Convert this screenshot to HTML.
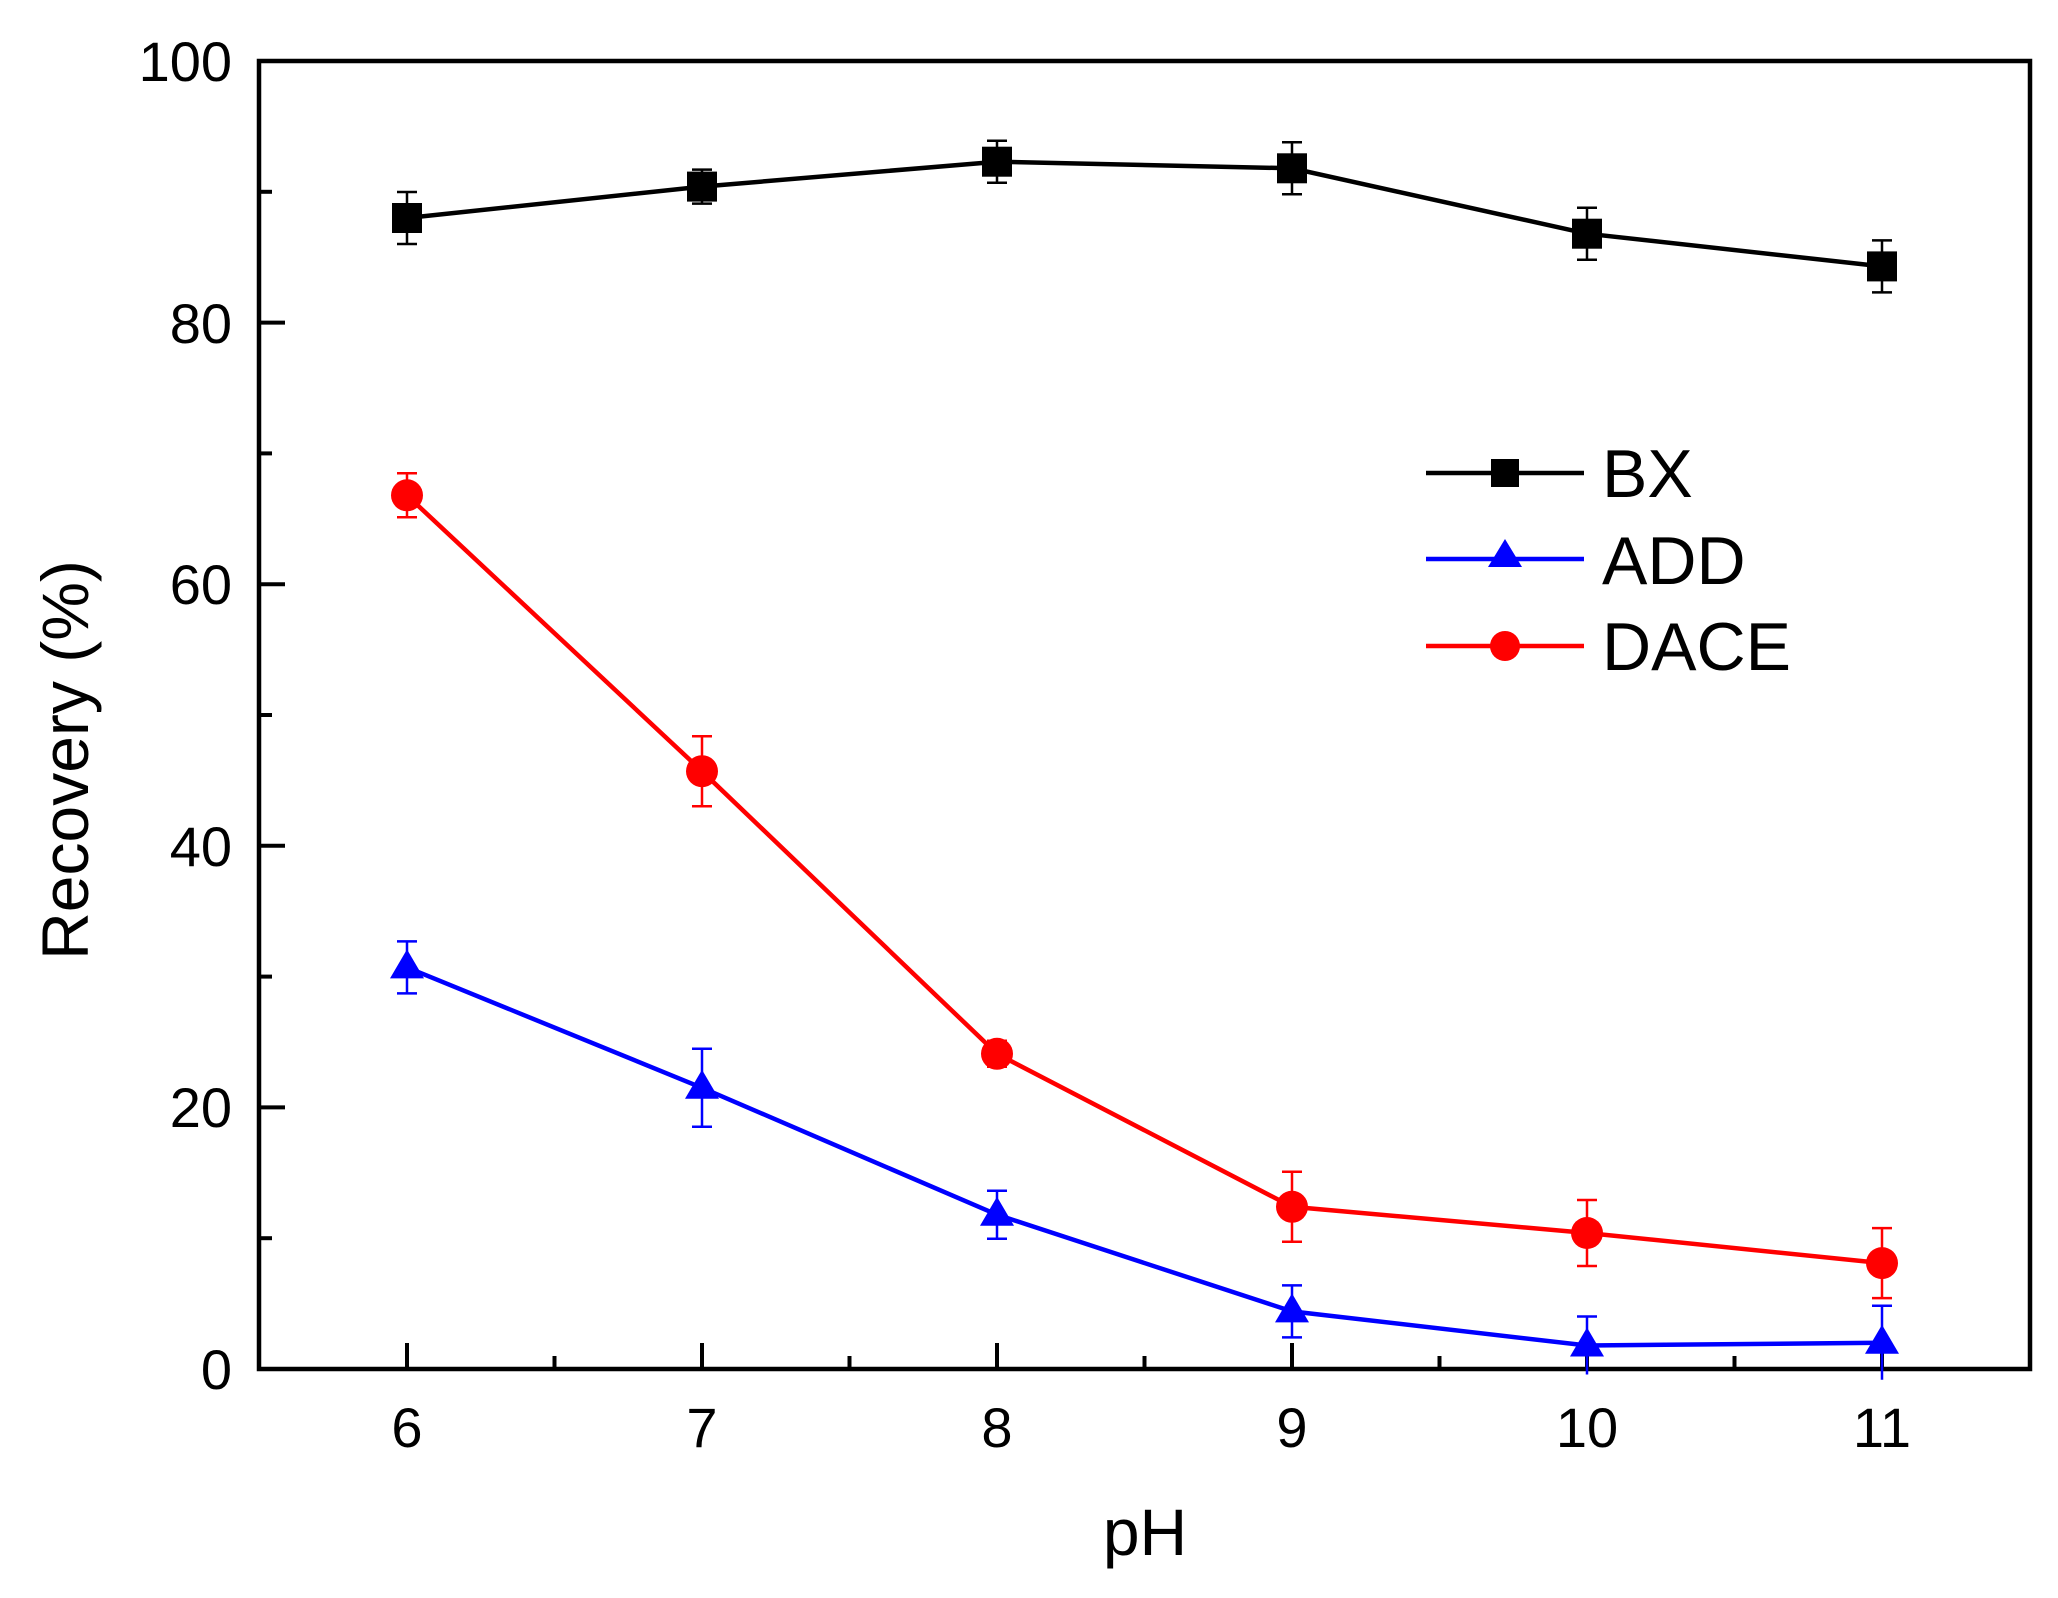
<!DOCTYPE html>
<html><head><meta charset="utf-8"><style>html,body{margin:0;padding:0;background:#fff}svg{display:block}</style></head>
<body>
<svg width="2058" height="1598" viewBox="0 0 2058 1598" xmlns="http://www.w3.org/2000/svg" font-family="Liberation Sans, Arial, sans-serif">
<rect width="2058" height="1598" fill="#fff"/>
<rect x="259" y="61" width="1771" height="1308" fill="none" stroke="#000" stroke-width="4.5"/>
<g stroke="#000" stroke-width="4">
<line x1="259" y1="1107.4" x2="285" y2="1107.4"/><line x1="259" y1="845.8" x2="285" y2="845.8"/><line x1="259" y1="584.2" x2="285" y2="584.2"/><line x1="259" y1="322.6" x2="285" y2="322.6"/>
<line x1="259" y1="1238.2" x2="272" y2="1238.2"/><line x1="259" y1="976.6" x2="272" y2="976.6"/><line x1="259" y1="715" x2="272" y2="715"/><line x1="259" y1="453.4" x2="272" y2="453.4"/><line x1="259" y1="191.8" x2="272" y2="191.8"/>
<line x1="407" y1="1369" x2="407" y2="1343"/><line x1="702" y1="1369" x2="702" y2="1343"/><line x1="997" y1="1369" x2="997" y2="1343"/><line x1="1292" y1="1369" x2="1292" y2="1343"/><line x1="1587" y1="1369" x2="1587" y2="1343"/><line x1="1882" y1="1369" x2="1882" y2="1343"/>
<line x1="554.5" y1="1369" x2="554.5" y2="1356"/><line x1="849.5" y1="1369" x2="849.5" y2="1356"/><line x1="1144.5" y1="1369" x2="1144.5" y2="1356"/><line x1="1439.5" y1="1369" x2="1439.5" y2="1356"/><line x1="1734.5" y1="1369" x2="1734.5" y2="1356"/>
</g>
<g font-size="56" fill="#000" text-anchor="end">
<text x="232" y="1389">0</text><text x="232" y="1127">20</text><text x="232" y="866">40</text><text x="232" y="604">60</text><text x="232" y="343">80</text><text x="232" y="81">100</text>
</g>
<g font-size="56" fill="#000" text-anchor="middle">
<text x="407" y="1447">6</text><text x="702" y="1447">7</text><text x="997" y="1447">8</text><text x="1292" y="1447">9</text><text x="1587" y="1447">10</text><text x="1882" y="1447">11</text>
</g>
<text x="1145" y="1555" font-size="66" text-anchor="middle">pH</text>
<text transform="translate(88,760) rotate(-90)" font-size="66" text-anchor="middle">Recovery (%)</text>

<g stroke="#000" stroke-width="2.5">
<path d="M407 192V244M397 192H417M397 244H417M702 169.6V203.6M692 169.6H712M692 203.6H712M997 140.7V182.7M987 140.7H1007M987 182.7H1007M1292 142.3V194.3M1282 142.3H1302M1282 194.3H1302M1587 207.7V259.7M1577 207.7H1597M1577 259.7H1597M1882 240.4V292.4M1872 240.4H1892M1872 292.4H1892"/>
</g>
<polyline points="407,218 702,186.6 997,161.7 1292,168.3 1587,233.7 1882,266.4" fill="none" stroke="#000" stroke-width="4.5"/>
<g fill="#000">
<rect x="392" y="203" width="30" height="30"/><rect x="687" y="171.6" width="30" height="30"/><rect x="982" y="146.7" width="30" height="30"/><rect x="1277" y="153.3" width="30" height="30"/><rect x="1572" y="218.7" width="30" height="30"/><rect x="1867" y="251.4" width="30" height="30"/>
</g>

<g stroke="#f00" stroke-width="2.5">
<path d="M407 473.3V517.3M397 473.3H417M397 517.3H417M702 736.2V806.2M692 736.2H712M692 806.2H712M997 1040.8V1066.8M987 1040.8H1007M987 1066.8H1007M1292 1171.8V1241.8M1282 1171.8H1302M1282 1241.8H1302M1587 1200V1266M1577 1200H1597M1577 1266H1597M1882 1228.1V1298.1M1872 1228.1H1892M1872 1298.1H1892"/>
</g>
<polyline points="407,495.3 702,771.2 997,1053.8 1292,1206.8 1587,1233 1882,1263.1" fill="none" stroke="#f00" stroke-width="4.5"/>
<g fill="#f00">
<circle cx="407" cy="495.3" r="16"/><circle cx="702" cy="771.2" r="16"/><circle cx="997" cy="1053.8" r="16"/><circle cx="1292" cy="1206.8" r="16"/><circle cx="1587" cy="1233" r="16"/><circle cx="1882" cy="1263.1" r="16"/>
</g>

<g stroke="#00f" stroke-width="2.5">
<path d="M407 941.4V993.4M397 941.4H417M397 993.4H417M702 1048.8V1126.8M692 1048.8H712M692 1126.8H712M997 1190.7V1238.7M987 1190.7H1007M987 1238.7H1007M1292 1285.4V1337.4M1282 1285.4H1302M1282 1337.4H1302M1587 1316.5V1374.5M1577 1316.5H1597M1882 1305.8V1379.8M1872 1305.8H1892"/>
</g>
<polyline points="407,967.4 702,1087.8 997,1214.7 1292,1311.4 1587,1345.5 1882,1342.8" fill="none" stroke="#00f" stroke-width="4.5"/>
<g fill="#00f">
<polygon points="407,949.4 424,978.4 390,978.4"/><polygon points="702,1069.8 719,1098.8 685,1098.8"/><polygon points="997,1196.7 1014,1225.7 980,1225.7"/><polygon points="1292,1293.4 1309,1322.4 1275,1322.4"/><polygon points="1587,1327.5 1604,1356.5 1570,1356.5"/><polygon points="1882,1324.8 1899,1353.8 1865,1353.8"/>
</g>

<line x1="1426" y1="473" x2="1584" y2="473" stroke="#000" stroke-width="4.5"/>
<rect x="1491" y="459" width="28" height="28" fill="#000"/>
<line x1="1426" y1="559" x2="1584" y2="559" stroke="#00f" stroke-width="4.5"/>
<polygon points="1505,539 1522,567 1488,567" fill="#00f"/>
<line x1="1426" y1="646" x2="1584" y2="646" stroke="#f00" stroke-width="4.5"/>
<circle cx="1505" cy="646" r="15" fill="#f00"/>
<g font-size="68" fill="#000">
<text x="1602" y="497">BX</text><text x="1602" y="584">ADD</text><text x="1602" y="670">DACE</text>
</g>
</svg>
</body></html>
